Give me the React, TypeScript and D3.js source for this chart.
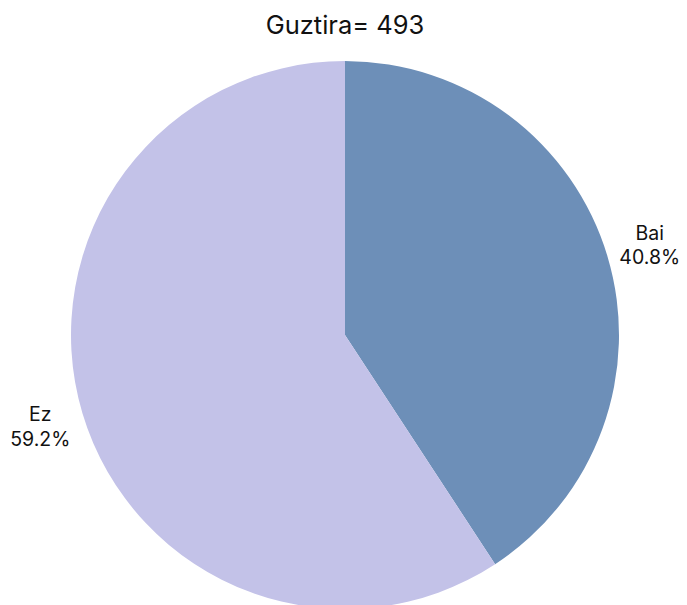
import React from "react";
import * as d3 from "d3";

const categories = ["Bai", "Ez"];
const counts = [201, 292];
const colors = ["#6d8fb8", "#c3c2e8"];
const title = "Guztira= 493";

export default function App() {
  const width = 687;
  const height = 605;
  const cx = 345;
  const cy = 335;
  const r = 274;
  const total = d3.sum(counts);
  const data = categories.map((c, i) => ({ c, v: counts[i], color: colors[i] }));
  const pie = d3.pie<any>().value((d) => d.v).sort(null);
  const arcs = pie(data);
  const arc = d3.arc<any>().innerRadius(0).outerRadius(r);
  const labelArc = d3.arc<any>().innerRadius(318).outerRadius(318);
  return (
    <svg width={width} height={height} style={{ position: "absolute", left: 0, top: 0, fontFamily: "Inter, 'Noto Sans', sans-serif" }}>
      <rect width={width} height={height} fill="#fff" />
      <text x={cx} y={34} textAnchor="middle" fontSize={25.5} fill="#111">{title}</text>
      <g transform={`translate(${cx},${cy})`}>
        {arcs.map((a, i) => (
          <path key={i} d={arc(a) as string} fill={a.data.color} />
        ))}
        {arcs.map((a, i) => {
          const [x, y] = labelArc.centroid(a);
          return (
            <text key={"l" + i} x={x} y={y} textAnchor="middle" fontSize={19.5} fill="#111">
              <tspan x={x} dy={-4.5}>{a.data.c}</tspan>
              <tspan x={x} dy={24.5}>{((a.data.v / total) * 100).toFixed(1) + "%"}</tspan>
            </text>
          );
        })}
      </g>
    </svg>
  );
}
